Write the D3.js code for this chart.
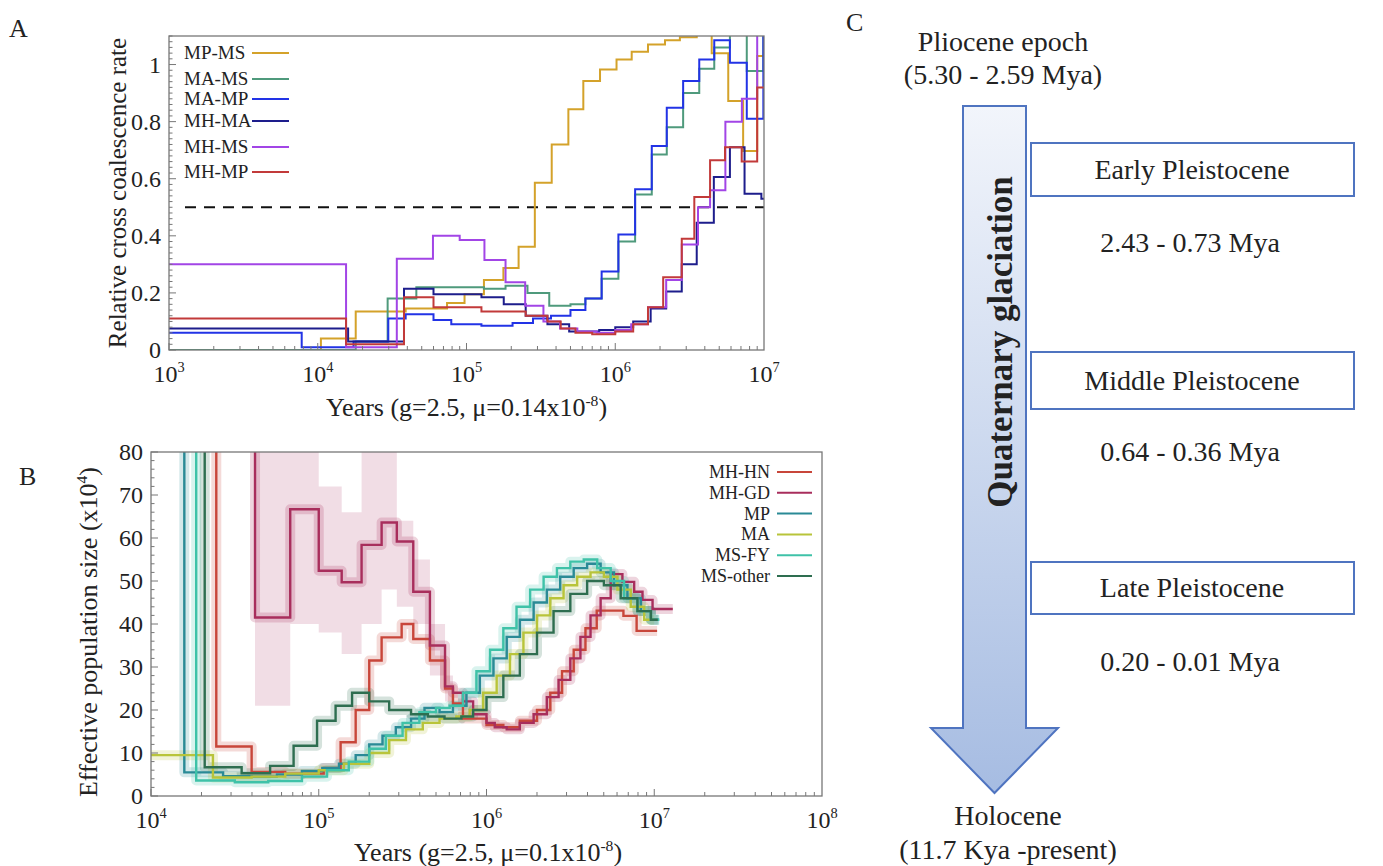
<!DOCTYPE html>
<html>
<head>
<meta charset="utf-8">
<script src="https://cdn.jsdelivr.net/npm/d3@7"></script>
<style>
  body { margin: 0; background: #fff; }
  svg { display: block; }
  text { font-family: "Liberation Serif", "Times New Roman", serif; fill: #222; }
</style>
</head>
<body>
<svg id="fig" width="1383" height="866"></svg>
<script>
// ---------- panel A : relative cross coalescence rate (years, rate) ----------
const ccrNames = ["MP-MS", "MA-MS", "MA-MP", "MH-MA", "MH-MS", "MH-MP"];
const ccrColors = ["#d4a22a", "#4f9a7c", "#2233e6", "#1d1d8c", "#a245e6", "#c23a3a"];
const ccrMPMS = [[1e3,0],[1.05e4,0.04],[1.8e4,0.135],[3.9e4,0.145],[7.4e4,0.165],[9.7e4,0.195],[1.31e5,0.245],[1.77e5,0.287],[2.24e5,0.362],[2.88e5,0.586],[3.74e5,0.72],[4.84e5,0.843],[6.1e5,0.942],[7.9e5,0.983],[1.02e6,1.018],[1.29e6,1.045],[1.66e6,1.07],[2.16e6,1.085],[2.72e6,1.096],[3.53e6,1.2],[4.45e6,1.04],[5.75e6,0.872],[7.24e6,0.697],[9.0e6,1.03],[1e7,1.03]];
const ccrMAMS = [[1e3,0],[1.8e4,0.03],[2.95e4,0.18],[4.6e4,0.22],[1.31e5,0.215],[1.83e5,0.225],[2.57e5,0.20],[3.6e5,0.155],[5.0e5,0.16],[6.3e5,0.18],[8.1e5,0.25],[1.05e6,0.38],[1.36e6,0.545],[1.76e6,0.685],[2.22e6,0.78],[2.86e6,0.90],[3.67e6,0.985],[4.63e6,1.06],[5.9e6,1.15],[7.66e6,0.977],[9.9e6,1.2],[1e7,1.2]];
const ccrMAMP = [[1e3,0.06],[7.8e3,0.01],[1.74e4,0.03],[2.98e4,0.11],[3.9e4,0.125],[6.0e4,0.105],[7.9e4,0.09],[1.26e5,0.085],[2.04e5,0.095],[2.8e5,0.11],[3.7e5,0.12],[5.0e5,0.14],[6.3e5,0.18],[8.1e5,0.275],[1.05e6,0.405],[1.36e6,0.563],[1.76e6,0.715],[2.22e6,0.849],[2.86e6,0.942],[3.67e6,1.018],[4.63e6,1.085],[5.9e6,1.006],[7.66e6,0.81],[9.9e6,1.2],[1e7,1.2]];
const ccrMHMA = [[1e3,0.075],[1.6e4,0.03],[3.8e4,0.215],[6.0e4,0.195],[1.26e5,0.185],[1.78e5,0.16],[2.5e5,0.12],[3.5e5,0.09],[4.9e5,0.065],[7.8e5,0.07],[1.0e6,0.08],[1.32e6,0.10],[1.73e6,0.145],[2.2e6,0.205],[2.8e6,0.30],[3.53e6,0.446],[4.6e6,0.606],[5.9e6,0.71],[7.4e6,0.547],[9.6e6,0.53],[1e7,0.53]];
const ccrMHMS = [[1e3,0.30],[1.55e4,0.01],[3.4e4,0.32],[5.95e4,0.40],[9.0e4,0.385],[1.32e5,0.315],[1.83e5,0.237],[2.48e5,0.155],[3.29e5,0.10],[4.25e5,0.075],[5.56e5,0.065],[7.5e5,0.06],[1.0e6,0.07],[1.28e6,0.09],[1.66e6,0.15],[2.2e6,0.245],[2.8e6,0.37],[3.6e6,0.5],[4.34e6,0.56],[5.5e6,0.80],[7.1e6,0.88],[9.0e6,1.2],[1e7,1.2]];
const ccrMHMP = [[1e3,0.11],[1.55e4,0.02],[3.8e4,0.185],[6.0e4,0.15],[1.26e5,0.135],[2.5e5,0.12],[3.5e5,0.10],[4.3e5,0.075],[5.4e5,0.06],[7.0e5,0.055],[1.0e6,0.065],[1.32e6,0.09],[1.66e6,0.15],[2.1e6,0.255],[2.8e6,0.39],[3.4e6,0.536],[4.34e6,0.665],[5.47e6,0.71],[7.08e6,0.66],[9.0e6,0.92],[1e7,0.92]];
const ccrSeries = [ccrMPMS, ccrMAMS, ccrMAMP, ccrMHMA, ccrMHMS, ccrMHMP];
const ccrThreshold = 0.5;
const ccrYTicks = [0, 0.2, 0.4, 0.6, 0.8, 1];
const ccrXTicks = [1e3, 1e4, 1e5, 1e6, 1e7];

// ---------- panel B : effective population size (years, x10^4) ----------
const neNames = ["MH-HN", "MH-GD", "MP", "MA", "MS-FY", "MS-other"];
const neColors = ["#c8463a", "#a82e5c", "#2a8a96", "#b8c43a", "#3fc2a8", "#2e6e50"];
const neHN = [[1.0e4,200],[2.45e4,11.5],[3.98e4,5.6],[6.31e4,5.2],[1.07e5,6.5],[1.35e5,12.5],[1.66e5,20],[2.0e5,31.5],[2.37e5,36.9],[3.12e5,40],[3.66e5,36.5],[4.6e5,31.5],[5.66e5,25],[6.31e5,21.5],[7.24e5,18],[1.0e6,16.5],[1.26e6,16],[1.58e6,17.5],[2.0e6,20],[2.4e6,24],[2.82e6,29],[3.31e6,34],[3.89e6,39],[4.54e6,43.1],[6.55e6,41.9],[7.85e6,38.4],[1.04e7,38.4]];
const neGD = [[1.0e4,200],[4.17e4,41.5],[6.76e4,66.7],[1.0e5,52.4],[1.37e5,49.7],[1.8e5,58.4],[2.37e5,63.6],[2.92e5,59.2],[3.66e5,47.5],[4.6e5,35.0],[5.66e5,25.5],[6.31e5,24],[7.24e5,22],[8.32e5,19],[1.0e6,17],[1.12e6,16],[1.32e6,15.5],[1.58e6,17],[1.91e6,19],[2.29e6,23],[2.69e6,27],[3.16e6,32],[3.63e6,37],[4.17e6,42],[4.79e6,46],[5.5e6,51.6],[6.46e6,49.8],[7.59e6,47.5],[8.51e6,45.6],[9.77e6,43.5],[1.29e7,43.5]];
const neMP = [[1.0e4,200],[1.58e4,5.5],[2.69e4,4.6],[3.98e4,4.5],[5.62e4,5.0],[7.94e4,5.8],[1.05e5,6.5],[1.32e5,7.5],[1.66e5,9.5],[2.0e5,12],[2.4e5,14],[2.88e5,16],[3.55e5,18],[4.27e5,20.5],[5.25e5,19.5],[6.31e5,21],[7.59e5,24],[9.12e5,28],[1.1e6,32],[1.32e6,37],[1.58e6,41],[1.91e6,45],[2.29e6,48],[2.75e6,51],[3.31e6,53],[3.98e6,54],[4.79e6,52],[5.75e6,49],[6.92e6,46],[8.32e6,43],[9.55e6,41],[1.07e7,41]];
const neMA = [[1.0e4,9.5],[2.34e4,4.3],[3.98e4,4.5],[6.31e4,5.2],[1.0e5,6.0],[1.41e5,7.5],[2.0e5,10],[2.63e5,13],[3.31e5,15.5],[4.17e5,17],[5.25e5,18],[6.61e5,18.5],[7.94e5,20],[9.55e5,24],[1.15e6,28],[1.38e6,33],[1.66e6,38],[2.0e6,42],[2.4e6,46],[2.88e6,49],[3.47e6,51],[4.17e6,52],[5.01e6,51],[6.03e6,48],[7.24e6,44],[8.71e6,41],[1.0e7,41]];
const neFY = [[1.0e4,200],[1.86e4,3.6],[3.16e4,3.2],[5.0e4,3.5],[7.94e4,4.5],[1.12e5,6],[1.51e5,8],[2.0e5,11],[2.51e5,14],[3.16e5,17],[3.98e5,19.5],[5.0e5,20.5],[6.03e5,21],[7.24e5,24],[8.71e5,29],[1.05e6,34],[1.26e6,39],[1.51e6,44],[1.82e6,48],[2.19e6,51],[2.63e6,53],[3.16e6,54.5],[3.8e6,55],[4.57e6,53],[5.5e6,50],[6.61e6,46],[7.94e6,43],[9.55e6,41],[1.07e7,41]];
const neOther = [[1.0e4,200],[2.09e4,6.7],[3.47e4,5.3],[5.13e4,7.0],[7.08e4,11.7],[9.77e4,17.5],[1.26e5,21],[1.58e5,24],[2.0e5,22],[2.63e5,20],[3.55e5,19],[4.47e5,18.5],[5.62e5,18],[7.08e5,18.5],[8.32e5,20],[1.0e6,23],[1.26e6,28],[1.58e6,33],[2.0e6,38],[2.51e6,43],[3.16e6,47],[3.98e6,50],[5.01e6,49],[6.31e6,46],[7.94e6,43],[9.55e6,41],[1.05e7,41]];
const neSeries = [neHN, neGD, neMP, neMA, neFY, neOther];
// spread of the MH-GD bootstrap replicates: [years, low, high]
const gdBoot = [[4.17e4,21,80],[6.76e4,40,80],[1.0e5,38,72],[1.37e5,33,66],[1.8e5,40,80],[2.37e5,48,80],[2.92e5,44,64],[3.66e5,40,55],[4.6e5,28,40],[5.66e5,22,28],[6.31e5,22,28]];
const neYTicks = [0, 10, 20, 30, 40, 50, 60, 70, 80];
const neXTicks = [1e4, 1e5, 1e6, 1e7, 1e8];

// ---------- panel C : epochs ----------
const epochTop = ["Pliocene epoch", "(5.30 - 2.59 Mya)"];
const epochBottom = ["Holocene", "(11.7 Kya -present)"];
const stageNames = ["Early Pleistocene", "Middle Pleistocene", "Late Pleistocene"];
const stageRanges = ["2.43 - 0.73 Mya", "0.64 - 0.36 Mya", "0.20 - 0.01 Mya"];
const glaciation = "Quaternary glaciation";

const svg = d3.select("#fig");
const defs = svg.append("defs");
const tickFont = 24;

function powLabel(g, x, y, exp, size) {
  const t = g.append("text").attr("x", x).attr("y", y)
    .attr("text-anchor", "middle").style("font-size", size + "px");
  t.append("tspan").text("10");
  t.append("tspan").attr("dy", -size * 0.4).style("font-size", (size * 0.6) + "px").text(exp);
}

function frame(g, x0, x1, y0, y1) {
  g.append("rect").attr("x", x0).attr("y", y0)
    .attr("width", x1 - x0).attr("height", y1 - y0)
    .attr("fill", "none").attr("stroke", "#777").attr("stroke-width", 1.3);
}

function logTicks(g, x, y0, y1, lo, hi) {
  // major + minor log ticks along the bottom, pointing inward
  for (let d = lo; d < hi; d *= 10) {
    for (let k = 1; k < 10; k++) {
      const px = x(d * k);
      const len = k === 1 ? 7 : 4;
      g.append("line").attr("x1", px).attr("x2", px)
        .attr("y1", y1).attr("y2", y1 - len).attr("stroke", "#777");
    }
  }
}

function linTicks(g, y, x0, values, minorStep, lo, hi) {
  d3.range(lo, hi + minorStep / 2, minorStep).forEach(v => {
    const major = values.some(t => Math.abs(t - v) < minorStep / 10);
    g.append("line").attr("x1", x0).attr("x2", x0 + (major ? 7 : 3.5))
      .attr("y1", y(v)).attr("y2", y(v)).attr("stroke", "#777");
  });
}

function supTitle(g, x, y, size, main, sup, rotate) {
  const t = g.append("text").attr("text-anchor", "middle").style("font-size", size + "px");
  if (rotate) t.attr("transform", `translate(${x},${y}) rotate(-90)`);
  else t.attr("x", x).attr("y", y);
  t.append("tspan").text(main);
  t.append("tspan").attr("dy", -size * 0.38).style("font-size", (size * 0.6) + "px").text(sup);
  t.append("tspan").attr("dy", size * 0.38).text(")");
}

const stepLine = (x, y) => d3.line().x(d => x(d[0])).y(d => y(d[1])).curve(d3.curveStepAfter);

// ================= Panel A =================
const A = { x0: 169, x1: 764, y0: 36, y1: 350 };
const xA = d3.scaleLog().domain([1e3, 1e7]).range([A.x0, A.x1]);
const yA = d3.scaleLinear().domain([0, 1.1]).range([A.y1, A.y0]);
const gA = svg.append("g");
defs.append("clipPath").attr("id", "clipA").append("rect")
  .attr("x", A.x0).attr("y", A.y0).attr("width", A.x1 - A.x0).attr("height", A.y1 - A.y0);

gA.append("line").attr("x1", 185).attr("x2", A.x1)
  .attr("y1", yA(ccrThreshold)).attr("y2", yA(ccrThreshold))
  .attr("stroke", "#111").attr("stroke-width", 1.8).attr("stroke-dasharray", "11,8");

const linesA = gA.append("g").attr("clip-path", "url(#clipA)");
ccrSeries.forEach((s, i) => {
  linesA.append("path").attr("d", stepLine(xA, yA)(s))
    .attr("fill", "none").attr("stroke", ccrColors[i]).attr("stroke-width", 2);
});
frame(gA, A.x0, A.x1, A.y0, A.y1);
logTicks(gA, xA, A.y0, A.y1, 1e3, 1e7);
linTicks(gA, yA, A.x0, ccrYTicks, 0.02, 0, 1.1);

ccrYTicks.forEach(v => {
  gA.append("text").attr("x", A.x0 - 8).attr("y", yA(v) + 8)
    .attr("text-anchor", "end").style("font-size", tickFont + "px").text(v);
});
ccrXTicks.forEach(v => powLabel(gA, xA(v), 382, Math.round(Math.log10(v)), tickFont));

gA.append("text").attr("transform", `translate(126,${(A.y0 + A.y1) / 2}) rotate(-90)`)
  .attr("text-anchor", "middle").style("font-size", "25px").text("Relative cross coalescence rate");
supTitle(gA, (A.x0 + A.x1) / 2, 416, 26, "Years (g=2.5, \u03bc=0.14x10", "-8", false);

// legend A
ccrNames.forEach((n, i) => {
  const ly = [53, 79, 99, 121, 147, 172][i];
  gA.append("text").attr("x", 184).attr("y", ly + 6).style("font-size", "19px").text(n);
  gA.append("line").attr("x1", 252).attr("x2", 289).attr("y1", ly).attr("y2", ly)
    .attr("stroke", ccrColors[i]).attr("stroke-width", 2);
});
svg.append("text").attr("x", 9).attr("y", 37).style("font-size", "26px").text("A");

// ================= Panel B =================
const B = { x0: 151, x1: 822, y0: 452, y1: 796 };
const xB = d3.scaleLog().domain([1e4, 1e8]).range([B.x0, B.x1]);
const yB = d3.scaleLinear().domain([0, 80]).range([B.y1, B.y0]);
const gB = svg.append("g");
defs.append("clipPath").attr("id", "clipB").append("rect")
  .attr("x", B.x0).attr("y", B.y0).attr("width", B.x1 - B.x0).attr("height", B.y1 - B.y0);
const linesB = gB.append("g").attr("clip-path", "url(#clipB)");

// bootstrap spread of MH-GD
const bootArea = d3.area().x(d => xB(d[0])).y0(d => yB(d[1])).y1(d => yB(d[2])).curve(d3.curveStepAfter);
linesB.append("path").attr("d", bootArea(gdBoot))
  .attr("fill", neColors[1]).attr("opacity", 0.16);

// halo standing in for bootstrap replicates, then the main curves
neSeries.forEach((s, i) => {
  linesB.append("path").attr("d", stepLine(xB, yB)(s))
    .attr("fill", "none").attr("stroke", neColors[i]).attr("stroke-width", 10)
    .attr("stroke-opacity", 0.2).attr("stroke-linejoin", "round");
});
neSeries.forEach((s, i) => {
  linesB.append("path").attr("d", stepLine(xB, yB)(s))
    .attr("fill", "none").attr("stroke", neColors[i]).attr("stroke-width", 2.4);
});
frame(gB, B.x0, B.x1, B.y0, B.y1);
logTicks(gB, xB, B.y0, B.y1, 1e4, 1e8);
linTicks(gB, yB, B.x0, neYTicks, 2, 0, 80);

neYTicks.forEach(v => {
  gB.append("text").attr("x", B.x0 - 8).attr("y", yB(v) + 8)
    .attr("text-anchor", "end").style("font-size", tickFont + "px").text(v);
});
neXTicks.forEach(v => powLabel(gB, xB(v), 828, Math.round(Math.log10(v)), tickFont));

supTitle(gB, 97, (B.y0 + B.y1) / 2 + 8, 26, "Effective population size (x10", "4", true);
supTitle(gB, 488, 861, 26, "Years (g=2.5, \u03bc=0.1x10", "-8", false);

// legend B
neNames.forEach((n, i) => {
  const ly = 472 + i * 20.8;
  gB.append("text").attr("x", 770).attr("y", ly + 6).attr("text-anchor", "end")
    .style("font-size", "18px").text(n);
  gB.append("line").attr("x1", 777).attr("x2", 812).attr("y1", ly).attr("y2", ly)
    .attr("stroke", neColors[i]).attr("stroke-width", 2);
});
svg.append("text").attr("x", 19).attr("y", 485).style("font-size", "26px").text("B");

// ================= Panel C =================
const gC = svg.append("g");
svg.append("text").attr("x", 846).attr("y", 31).style("font-size", "26px").text("C");
const grad = defs.append("linearGradient").attr("id", "arrowGrad")
  .attr("x1", 0).attr("y1", 0).attr("x2", 0).attr("y2", 1);
grad.append("stop").attr("offset", "0%").attr("stop-color", "#f2f5fb");
grad.append("stop").attr("offset", "100%").attr("stop-color", "#a6bce2");

const arrow = { left: 963, right: 1026, top: 106, neck: 728, headL: 931, headR: 1058, tip: 793 };
const arrowPts = [
  [arrow.left, arrow.top], [arrow.right, arrow.top], [arrow.right, arrow.neck],
  [arrow.headR, arrow.neck], [(arrow.left + arrow.right) / 2, arrow.tip],
  [arrow.headL, arrow.neck], [arrow.left, arrow.neck]
];
gC.append("path").attr("d", d3.line()(arrowPts) + "Z")
  .attr("fill", "url(#arrowGrad)").attr("stroke", "#4f74c0").attr("stroke-width", 2);
gC.append("text")
  .attr("transform", `translate(1012,342) rotate(-90)`)
  .attr("text-anchor", "middle").style("font-size", "35px").style("font-weight", "bold")
  .text(glaciation);

const cFont = "28px";
gC.append("text").attr("x", 1003).attr("y", 51).attr("text-anchor", "middle")
  .style("font-size", cFont).text(epochTop[0]);
gC.append("text").attr("x", 1003).attr("y", 84).attr("text-anchor", "middle")
  .style("font-size", cFont).text(epochTop[1]);
gC.append("text").attr("x", 1008).attr("y", 825).attr("text-anchor", "middle")
  .style("font-size", cFont).text(epochBottom[0]);
gC.append("text").attr("x", 1008).attr("y", 859).attr("text-anchor", "middle")
  .style("font-size", cFont).text(epochBottom[1]);

const boxTops = [143, 352, 562];
const boxHeights = [53, 57, 52];
stageNames.forEach((n, i) => {
  gC.append("rect").attr("x", 1031).attr("y", boxTops[i]).attr("width", 323).attr("height", boxHeights[i])
    .attr("fill", "#fff").attr("stroke", "#4f74c0").attr("stroke-width", 2);
  gC.append("text").attr("x", 1192).attr("y", boxTops[i] + boxHeights[i] / 2 + 9).attr("text-anchor", "middle")
    .style("font-size", cFont).text(n);
  gC.append("text").attr("x", 1190).attr("y", boxTops[i] + 109).attr("text-anchor", "middle")
    .style("font-size", cFont).text(stageRanges[i]);
});
</script>
</body>
</html>
